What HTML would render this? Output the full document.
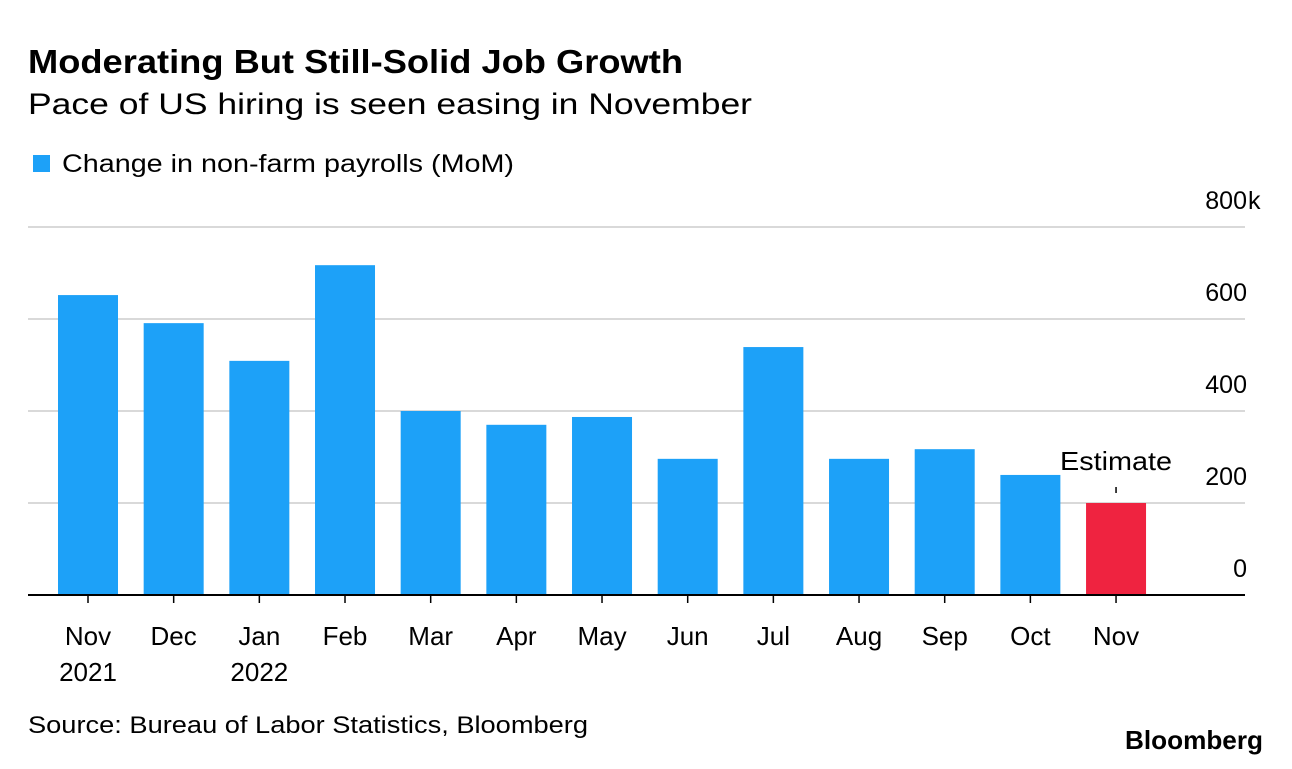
<!DOCTYPE html>
<html><head><meta charset="utf-8"><style>
body{margin:0;background:#fff;font-family:"Liberation Sans",Arial,sans-serif;}
svg text{font-family:"Liberation Sans",Arial,sans-serif;}
</style></head><body>
<svg width="1292" height="764" viewBox="0 0 1292 764">
<text x="28" y="73" font-size="33" font-weight="bold" fill="#000" textLength="655" lengthAdjust="spacingAndGlyphs">Moderating But Still-Solid Job Growth</text>
<text x="28" y="114" font-size="30" fill="#000" textLength="724" lengthAdjust="spacingAndGlyphs">Pace of US hiring is seen easing in November</text>
<rect x="33" y="155" width="17" height="17" fill="#1da1f8"/>
<text x="62" y="172" font-size="25" fill="#000" textLength="452" lengthAdjust="spacingAndGlyphs">Change in non-farm payrolls (MoM)</text>
<g id="grid"></g><g id="bars"></g><g id="xlabels"></g>
<text x="28" y="733" font-size="24" fill="#000" textLength="560" lengthAdjust="spacingAndGlyphs">Source: Bureau of Labor Statistics, Bloomberg</text>
<text x="1263" y="749" font-size="26" font-weight="bold" text-anchor="end" fill="#000" textLength="138" lengthAdjust="spacingAndGlyphs">Bloomberg</text>
</svg>
<script>
const categories=["Nov","Dec","Jan","Feb","Mar","Apr","May","Jun","Jul","Aug","Sep","Oct","Nov"];
const years=["2021","","2022","","","","","","","","","",""];
const values=[652,591,509,717,400,370,387,296,539,296,317,261,200];
const ticks=[0,200,400,600,800];
const tickLabels=["0","200","400","600","800"];
const NS="http://www.w3.org/2000/svg";
const y=v=>595-v*0.46, x=i=>88+i*85.67;
function mk(t,a,p){const e=document.createElementNS(NS,t);for(const k in a)e.setAttribute(k,a[k]);p.appendChild(e);return e;}
const g=document.getElementById('grid'),b=document.getElementById('bars'),xl=document.getElementById('xlabels');
ticks.forEach((t,i)=>{
 if(t>0){const l=mk('line',{x1:28,x2:1245,y1:y(t),y2:y(t),stroke:'#d9d9d9','stroke-width':2},g);
 
 }
 const tx=mk('text',{x:1247,y:y(t)-18,'font-size':25,'text-anchor':'end',fill:'#000'},g);tx.textContent=tickLabels[i];
 
 
 if(i===ticks.length-1){const k=mk('text',{x:1248,y:y(t)-18,'font-size':25,fill:'#000'},g);k.textContent='k';
 
 }
});
values.forEach((v,i)=>{
 const last=i===values.length-1;
 const r=mk('rect',{x:x(i)-30,y:y(v),width:60,height:595-y(v),fill:last?'#ef2340':'#1da1f8'},b);
 
 
 const tk=mk('line',{x1:x(i),x2:x(i),y1:595,y2:603,stroke:'#000','stroke-width':1.5},xl);
 
 
 const t=mk('text',{x:x(i),y:645,'font-size':26,'text-anchor':'middle',fill:'#000'},xl);t.textContent=categories[i];
 
 
 if(years[i]){const t2=mk('text',{x:x(i),y:681,'font-size':26,'text-anchor':'middle',fill:'#000'},xl);t2.textContent=years[i];
 
 }
 if(last){const e=mk('text',{x:x(i),y:y(v)-33,'font-size':26,'text-anchor':'middle',fill:'#000',textLength:112,lengthAdjust:'spacingAndGlyphs'},b);e.textContent='Estimate';
 
 
 const el=mk('line',{x1:x(i),x2:x(i),y1:y(v)-16,y2:y(v)-10,stroke:'#000','stroke-width':1.5},b);
 
 }
});
const ax=mk('line',{x1:28,x2:1245,y1:595,y2:595,stroke:'#000','stroke-width':2},xl);


</script>
</body></html>
